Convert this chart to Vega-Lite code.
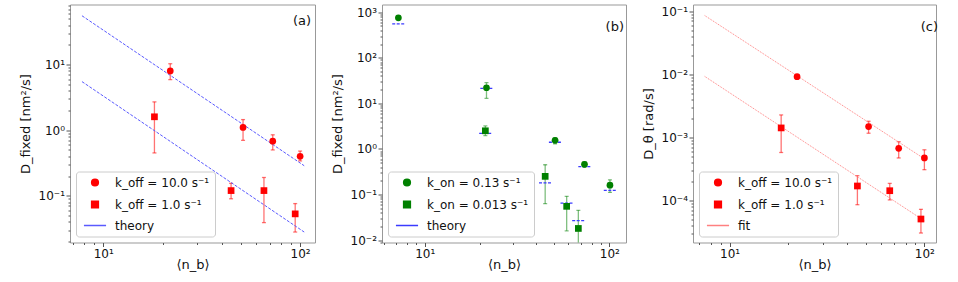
{
  "$schema": "https://vega.github.io/schema/vega-lite/v6.json",
  "padding": {"left": 18, "top": -1.5, "right": 0, "bottom": 0},
  "spacing": 67,
  "bounds": "flush",
  "resolve": {"scale": {"color": "independent", "shape": "independent"}, "legend": {"color": "independent", "shape": "independent"}},
  "config": {
    "font": "DejaVu Sans",
    "view": {"stroke": "#999", "strokeWidth": 1},
    "axis": {"grid": false, "domain": false, "tickColor": "#555", "labelFontSize": 12, "labelColor": "#111", "titleFontSize": 13, "titleFontWeight": "normal", "titleColor": "#111", "labelPadding": 1.5, "labelOverlap": false, "labelFlush": false, "labelBound": false},
    "axisX": {"titlePadding": -0.5},
    "axisY": {"titlePadding": 6},
    "legend": {"orient": "bottom-left", "offset": 6, "symbolSize": 45, "symbolOffset": 8, "labelFontSize": 12, "labelColor": "#111", "padding": 5, "rowPadding": 8, "labelOffset": 14, "strokeColor": "#ccc", "fillColor": "white", "cornerRadius": 3},
    "title": {"fontSize": 13, "fontWeight": "normal", "color": "#111", "anchor": "end"}
  },
  "datasets": {
    "a_pts": [
      {"series": "k_off = 10.0 s⁻¹", "n": 21.9, "D": 8.0, "lo": 5.9, "hi": 10.3},
      {"series": "k_off = 10.0 s⁻¹", "n": 51.3, "D": 1.1, "lo": 0.70, "hi": 1.45},
      {"series": "k_off = 10.0 s⁻¹", "n": 72.6, "D": 0.68, "lo": 0.50, "hi": 0.85},
      {"series": "k_off = 10.0 s⁻¹", "n": 100, "D": 0.40, "lo": 0.34, "hi": 0.48},
      {"series": "k_off = 1.0 s⁻¹", "n": 18.2, "D": 1.6, "lo": 0.45, "hi": 2.7},
      {"series": "k_off = 1.0 s⁻¹", "n": 44.6, "D": 0.12, "lo": 0.09, "hi": 0.155},
      {"series": "k_off = 1.0 s⁻¹", "n": 65.5, "D": 0.12, "lo": 0.039, "hi": 0.19},
      {"series": "k_off = 1.0 s⁻¹", "n": 94.4, "D": 0.053, "lo": 0.028, "hi": 0.076}
    ],
    "a_lines": [
      {"series": "theory", "line": "upper", "n": 7.8, "D": 55.5},
      {"series": "theory", "line": "upper", "n": 104.9, "D": 0.287},
      {"series": "theory", "line": "lower", "n": 7.8, "D": 5.5},
      {"series": "theory", "line": "lower", "n": 104.9, "D": 0.028}
    ],
    "b_pts": [
      {"series": "k_on = 0.13 s⁻¹", "n": 7.2, "D": 753},
      {"series": "k_on = 0.13 s⁻¹", "n": 21.6, "D": 22, "lo": 12.9, "hi": 28.4},
      {"series": "k_on = 0.13 s⁻¹", "n": 50.8, "D": 1.55, "lo": 1.3, "hi": 1.75},
      {"series": "k_on = 0.13 s⁻¹", "n": 73.3, "D": 0.46, "lo": 0.40, "hi": 0.52},
      {"series": "k_on = 0.13 s⁻¹", "n": 100.7, "D": 0.16, "lo": 0.111, "hi": 0.21},
      {"series": "k_on = 0.013 s⁻¹", "n": 21.3, "D": 2.5, "lo": 1.96, "hi": 3.2},
      {"series": "k_on = 0.013 s⁻¹", "n": 44.9, "D": 0.25, "lo": 0.063, "hi": 0.45},
      {"series": "k_on = 0.013 s⁻¹", "n": 58.7, "D": 0.055, "lo": 0.016, "hi": 0.091},
      {"series": "k_on = 0.013 s⁻¹", "n": 67.9, "D": 0.018, "lo": 0.005, "hi": 0.045}
    ],
    "b_theory": [
      {"series": "theory", "n": 7.2, "D": 556},
      {"series": "theory", "n": 21.6, "D": 21.4},
      {"series": "theory", "n": 21.3, "D": 2.2},
      {"series": "theory", "n": 50.8, "D": 1.4},
      {"series": "theory", "n": 73.3, "D": 0.41},
      {"series": "theory", "n": 100.7, "D": 0.123},
      {"series": "theory", "n": 44.9, "D": 0.18},
      {"series": "theory", "n": 58.7, "D": 0.065},
      {"series": "theory", "n": 67.9, "D": 0.0266}
    ],
    "c_pts": [
      {"series": "k_off = 10.0 s⁻¹", "n": 22.2, "D": 0.0092},
      {"series": "k_off = 10.0 s⁻¹", "n": 51.7, "D": 0.00149, "lo": 0.00117, "hi": 0.00181},
      {"series": "k_off = 10.0 s⁻¹", "n": 73.8, "D": 0.000675, "lo": 0.000475, "hi": 0.00086},
      {"series": "k_off = 10.0 s⁻¹", "n": 100, "D": 0.000475, "lo": 0.00031, "hi": 0.00064},
      {"series": "k_off = 1.0 s⁻¹", "n": 18.4, "D": 0.00142, "lo": 0.00058, "hi": 0.00228},
      {"series": "k_off = 1.0 s⁻¹", "n": 45.3, "D": 0.000171, "lo": 0.0000865, "hi": 0.000249},
      {"series": "k_off = 1.0 s⁻¹", "n": 66.4, "D": 0.000144, "lo": 0.000103, "hi": 0.000188},
      {"series": "k_off = 1.0 s⁻¹", "n": 96, "D": 0.0000513, "lo": 0.0000308, "hi": 0.000073}
    ],
    "c_lines": [
      {"series": "fit", "line": "upper", "n": 7.45, "D": 0.0855},
      {"series": "fit", "line": "upper", "n": 100, "D": 0.00046},
      {"series": "fit", "line": "lower", "n": 7.45, "D": 0.0093},
      {"series": "fit", "line": "lower", "n": 100, "D": 0.000048}
    ]
  },
  "hconcat": [
    {
      "width": 245, "height": 238,
      "title": {"text": "(a)", "offset": -29, "dx": -4},
      "layer": [
        {
          "data": {"name": "a_pts"},
          "transform": [{"filter": "isValid(datum.lo)"}],
          "mark": {"type": "errorbar", "color": "#ff0000", "opacity": 0.55, "thickness": 1.3, "ticks": {"size": 4}},
          "encoding": {
            "x": {"field": "n", "type": "quantitative", "scale": {"type": "log", "domain": [6.78, 119], "nice": false}, "axis": {"title": "⟨n_b⟩", "values": [7,8,9,10,20,30,40,50,60,70,80,90,100], "labelExpr": "datum.value == 10 ? '10¹' : datum.value == 100 ? '10²' : ''", "tickSize": {"condition": {"test": "indexof([10,100], datum.value) >= 0", "value": 4}, "value": 2}}},
            "y": {"field": "lo", "type": "quantitative", "scale": {"type": "log", "domain": [0.0194, 82.4], "nice": false}, "axis": {"title": "D_fixed [nm²/s]", "values": [0.02,0.03,0.04,0.05,0.06,0.07,0.08,0.09,0.1,0.2,0.3,0.4,0.5,0.6,0.7,0.8,0.9,1,2,3,4,5,6,7,8,9,10,20,30,40,50,60,70,80], "labelExpr": "datum.value == 0.1 ? '10⁻¹' : datum.value == 1 ? '10⁰' : datum.value == 10 ? '10¹' : ''", "tickSize": {"condition": {"test": "indexof([0.1,1,10], datum.value) >= 0", "value": 4}, "value": 2}}},
            "y2": {"field": "hi"}
          }
        },
        {
          "data": {"name": "a_lines"},
          "mark": {"type": "line", "strokeDash": [3, 1.5], "strokeWidth": 1, "opacity": 1},
          "encoding": {
            "x": {"field": "n", "type": "quantitative"},
            "y": {"field": "D", "type": "quantitative"},
            "detail": {"field": "line"},
            "color": {"field": "series", "type": "nominal", "scale": {"domain": ["k_off = 10.0 s⁻¹", "k_off = 1.0 s⁻¹", "theory"], "range": ["#ff0000", "#ff0000", "#5a5aff"]},
              "legend": {"title": null, "encode": {"symbols": {
                "fill": {"condition": {"test": "datum.value === 'theory'", "value": "transparent"}, "value": "#ff0000"},
                "stroke": {"condition": {"test": "datum.value === 'theory'", "value": "#5a5aff"}, "value": "transparent"},
                "strokeDash": {"condition": {"test": "datum.value === 'theory'", "value": [3, 1.5]}, "value": []},
                "strokeWidth": {"value": 1.2},
                "opacity": {"value": 1}}}}}
          }
        },
        {
          "data": {"name": "a_pts"},
          "mark": {"type": "point", "filled": true, "opacity": 1, "size": 45},
          "encoding": {
            "x": {"field": "n", "type": "quantitative"},
            "y": {"field": "D", "type": "quantitative"},
            "color": {"field": "series", "type": "nominal", "scale": {"domain": ["k_off = 10.0 s⁻¹", "k_off = 1.0 s⁻¹", "theory"], "range": ["#ff0000", "#ff0000", "#5a5aff"]},
              "legend": {"title": null, "encode": {"symbols": {
                "fill": {"condition": {"test": "datum.value === 'theory'", "value": "transparent"}, "value": "#ff0000"},
                "stroke": {"condition": {"test": "datum.value === 'theory'", "value": "#5a5aff"}, "value": "transparent"},
                "strokeDash": {"condition": {"test": "datum.value === 'theory'", "value": [3, 1.5]}, "value": []},
                "strokeWidth": {"value": 1.2},
                "opacity": {"value": 1}}}}},
            "shape": {"field": "series", "type": "nominal", "scale": {"domain": ["k_off = 10.0 s⁻¹", "k_off = 1.0 s⁻¹", "theory"], "range": ["circle", "square", "M-3.3,0H3.3"]},
              "legend": {"title": null, "encode": {"symbols": {
                "fill": {"condition": {"test": "datum.value === 'theory'", "value": "transparent"}, "value": "#ff0000"},
                "stroke": {"condition": {"test": "datum.value === 'theory'", "value": "#5a5aff"}, "value": "transparent"},
                "strokeDash": {"condition": {"test": "datum.value === 'theory'", "value": [3, 1.5]}, "value": []},
                "strokeWidth": {"value": 1.2},
                "opacity": {"value": 1}}}}}
          }
        }
      ]
    },
    {
      "width": 244, "height": 238,
      "title": {"text": "(b)", "offset": -29, "dx": -2},
      "layer": [
        {
          "data": {"name": "b_pts"},
          "transform": [{"filter": "isValid(datum.lo)"}],
          "mark": {"type": "errorbar", "color": "#008000", "opacity": 0.5, "thickness": 1.3, "ticks": {"size": 4}, "clip": true},
          "encoding": {
            "x": {"field": "n", "type": "quantitative", "scale": {"type": "log", "domain": [5.87, 123], "nice": false}, "axis": {"title": "⟨n_b⟩", "values": [6,7,8,9,10,20,30,40,50,60,70,80,90,100], "labelExpr": "datum.value == 10 ? '10¹' : datum.value == 100 ? '10²' : ''", "tickSize": {"condition": {"test": "indexof([10,100], datum.value) >= 0", "value": 4}, "value": 2}}},
            "y": {"field": "lo", "type": "quantitative", "scale": {"type": "log", "domain": [0.00885, 1476], "nice": false}, "axis": {"title": "D_fixed [nm²/s]", "values": [0.009,0.01,0.02,0.03,0.04,0.05,0.06,0.07,0.08,0.09,0.1,0.2,0.3,0.4,0.5,0.6,0.7,0.8,0.9,1,2,3,4,5,6,7,8,9,10,20,30,40,50,60,70,80,90,100,200,300,400,500,600,700,800,900,1000], "labelExpr": "datum.value == 0.01 ? '10⁻²' : datum.value == 0.1 ? '10⁻¹' : datum.value == 1 ? '10⁰' : datum.value == 10 ? '10¹' : datum.value == 100 ? '10²' : datum.value == 1000 ? '10³' : ''", "tickSize": {"condition": {"test": "indexof([0.01,0.1,1,10,100,1000], datum.value) >= 0", "value": 4}, "value": 2}}},
            "y2": {"field": "hi"}
          }
        },
        {
          "data": {"name": "b_theory"},
          "mark": {"type": "point", "filled": false, "opacity": 1, "size": 14, "strokeWidth": 1.3, "strokeDash": [3, 1.5]},
          "encoding": {
            "x": {"field": "n", "type": "quantitative"},
            "y": {"field": "D", "type": "quantitative"},
            "color": {"field": "series", "type": "nominal", "scale": {"domain": ["k_on = 0.13 s⁻¹", "k_on = 0.013 s⁻¹", "theory"], "range": ["#008000", "#008000", "#3b3bff"]},
              "legend": {"title": null, "encode": {"symbols": {
                "fill": {"condition": {"test": "datum.value === 'theory'", "value": "transparent"}, "value": "#008000"},
                "stroke": {"condition": {"test": "datum.value === 'theory'", "value": "#6a6aff"}, "value": "transparent"},
                "strokeDash": {"condition": {"test": "datum.value === 'theory'", "value": [3, 1.5]}, "value": []},
                "strokeWidth": {"value": 1.2},
                "opacity": {"value": 1}}}}},
            "shape": {"field": "series", "type": "nominal", "scale": {"domain": ["k_on = 0.13 s⁻¹", "k_on = 0.013 s⁻¹", "theory"], "range": ["circle", "square", "M-3.3,0H3.3"]},
              "legend": {"title": null, "encode": {"symbols": {
                "fill": {"condition": {"test": "datum.value === 'theory'", "value": "transparent"}, "value": "#008000"},
                "stroke": {"condition": {"test": "datum.value === 'theory'", "value": "#6a6aff"}, "value": "transparent"},
                "strokeDash": {"condition": {"test": "datum.value === 'theory'", "value": [3, 1.5]}, "value": []},
                "strokeWidth": {"value": 1.2},
                "opacity": {"value": 1}}}}}
          }
        },
        {
          "data": {"name": "b_pts"},
          "mark": {"type": "point", "filled": true, "opacity": 1, "size": 45},
          "encoding": {
            "x": {"field": "n", "type": "quantitative"},
            "y": {"field": "D", "type": "quantitative"},
            "color": {"field": "series", "type": "nominal", "scale": {"domain": ["k_on = 0.13 s⁻¹", "k_on = 0.013 s⁻¹", "theory"], "range": ["#008000", "#008000", "#3b3bff"]},
              "legend": {"title": null, "encode": {"symbols": {
                "fill": {"condition": {"test": "datum.value === 'theory'", "value": "transparent"}, "value": "#008000"},
                "stroke": {"condition": {"test": "datum.value === 'theory'", "value": "#6a6aff"}, "value": "transparent"},
                "strokeDash": {"condition": {"test": "datum.value === 'theory'", "value": [3, 1.5]}, "value": []},
                "strokeWidth": {"value": 1.2},
                "opacity": {"value": 1}}}}},
            "shape": {"field": "series", "type": "nominal", "scale": {"domain": ["k_on = 0.13 s⁻¹", "k_on = 0.013 s⁻¹", "theory"], "range": ["circle", "square", "M-3.3,0H3.3"]},
              "legend": {"title": null, "encode": {"symbols": {
                "fill": {"condition": {"test": "datum.value === 'theory'", "value": "transparent"}, "value": "#008000"},
                "stroke": {"condition": {"test": "datum.value === 'theory'", "value": "#6a6aff"}, "value": "transparent"},
                "strokeDash": {"condition": {"test": "datum.value === 'theory'", "value": [3, 1.5]}, "value": []},
                "strokeWidth": {"value": 1.2},
                "opacity": {"value": 1}}}}}
          }
        }
      ]
    },
    {
      "width": 243, "height": 238,
      "title": {"text": "(c)", "offset": -29, "dx": 2},
      "layer": [
        {
          "data": {"name": "c_pts"},
          "transform": [{"filter": "isValid(datum.lo)"}],
          "mark": {"type": "errorbar", "color": "#ff0000", "opacity": 0.55, "thickness": 1.3, "ticks": {"size": 4}},
          "encoding": {
            "x": {"field": "n", "type": "quantitative", "scale": {"type": "log", "domain": [6.49, 114.7], "nice": false}, "axis": {"title": "⟨n_b⟩", "values": [7,8,9,10,20,30,40,50,60,70,80,90,100], "labelExpr": "datum.value == 10 ? '10¹' : datum.value == 100 ? '10²' : ''", "tickSize": {"condition": {"test": "indexof([10,100], datum.value) >= 0", "value": 4}, "value": 2}}},
            "y": {"field": "lo", "type": "quantitative", "scale": {"type": "log", "domain": [0.0000218, 0.1277], "nice": false}, "axis": {"title": "D_θ [rad/s]", "values": [0.00003,0.00004,0.00005,0.00006,0.00007,0.00008,0.00009,0.0001,0.0002,0.0003,0.0004,0.0005,0.0006,0.0007,0.0008,0.0009,0.001,0.002,0.003,0.004,0.005,0.006,0.007,0.008,0.009,0.01,0.02,0.03,0.04,0.05,0.06,0.07,0.08,0.09,0.1], "labelExpr": "datum.value == 0.0001 ? '10⁻⁴' : datum.value == 0.001 ? '10⁻³' : datum.value == 0.01 ? '10⁻²' : datum.value == 0.1 ? '10⁻¹' : ''", "tickSize": {"condition": {"test": "indexof([0.0001,0.001,0.01,0.1], datum.value) >= 0", "value": 4}, "value": 2}}},
            "y2": {"field": "hi"}
          }
        },
        {
          "data": {"name": "c_lines"},
          "mark": {"type": "line", "strokeDash": [1, 1], "strokeWidth": 1, "opacity": 1},
          "encoding": {
            "x": {"field": "n", "type": "quantitative"},
            "y": {"field": "D", "type": "quantitative"},
            "detail": {"field": "line"},
            "color": {"field": "series", "type": "nominal", "scale": {"domain": ["k_off = 10.0 s⁻¹", "k_off = 1.0 s⁻¹", "fit"], "range": ["#ff0000", "#ff0000", "#ff8080"]},
              "legend": {"title": null, "encode": {"symbols": {
                "fill": {"condition": {"test": "datum.value === 'fit'", "value": "transparent"}, "value": "#ff0000"},
                "stroke": {"condition": {"test": "datum.value === 'fit'", "value": "#ff8080"}, "value": "transparent"},
                "strokeDash": {"condition": {"test": "datum.value === 'fit'", "value": [1, 1]}, "value": []},
                "strokeWidth": {"value": 1.2},
                "opacity": {"value": 1}}}}}
          }
        },
        {
          "data": {"name": "c_pts"},
          "mark": {"type": "point", "filled": true, "opacity": 1, "size": 45},
          "encoding": {
            "x": {"field": "n", "type": "quantitative"},
            "y": {"field": "D", "type": "quantitative"},
            "color": {"field": "series", "type": "nominal", "scale": {"domain": ["k_off = 10.0 s⁻¹", "k_off = 1.0 s⁻¹", "fit"], "range": ["#ff0000", "#ff0000", "#ff8080"]},
              "legend": {"title": null, "encode": {"symbols": {
                "fill": {"condition": {"test": "datum.value === 'fit'", "value": "transparent"}, "value": "#ff0000"},
                "stroke": {"condition": {"test": "datum.value === 'fit'", "value": "#ff8080"}, "value": "transparent"},
                "strokeDash": {"condition": {"test": "datum.value === 'fit'", "value": [1, 1]}, "value": []},
                "strokeWidth": {"value": 1.2},
                "opacity": {"value": 1}}}}},
            "shape": {"field": "series", "type": "nominal", "scale": {"domain": ["k_off = 10.0 s⁻¹", "k_off = 1.0 s⁻¹", "fit"], "range": ["circle", "square", "M-3.3,0H3.3"]},
              "legend": {"title": null, "encode": {"symbols": {
                "fill": {"condition": {"test": "datum.value === 'fit'", "value": "transparent"}, "value": "#ff0000"},
                "stroke": {"condition": {"test": "datum.value === 'fit'", "value": "#ff8080"}, "value": "transparent"},
                "strokeDash": {"condition": {"test": "datum.value === 'fit'", "value": [1, 1]}, "value": []},
                "strokeWidth": {"value": 1.2},
                "opacity": {"value": 1}}}}}
          }
        }
      ]
    }
  ]
}
